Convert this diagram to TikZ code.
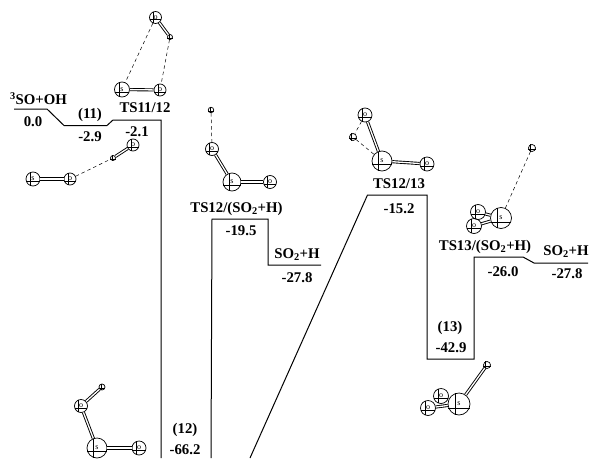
\documentclass[tikz,border=0pt]{standalone}
\usepackage{fontspec}
\setmainfont{Liberation Serif}
\usepackage{xcolor}
\usetikzlibrary{arrows.meta, positioning, calc}

\tikzset{
    level/.style={line width=1pt},
    lbl/.style={font=\fontsize{14.8}{16}\selectfont\bfseries, inner sep=0pt},
    atom/.style={circle, draw, line width=0.7pt, minimum size=#1, inner sep=0pt,
        font=\fontsize{8}{8}\selectfont,
        append after command={
            (\tikzlastnode.200) edge[line width=0.4pt] (\tikzlastnode.340)
            (\tikzlastnode.110) edge[line width=0.4pt] (\tikzlastnode.250)
        }},
    bond/.style={double, double distance=1.3pt, line width=0.9pt},
    weak/.style={line width=0.5pt, dash pattern=on 3.5pt off 3pt},
}

\begin{document}
\begin{tikzpicture}[x=1pt, y=-1pt]
    \useasboundingbox (0,0) rectangle (589,458);

    % reactant side
    \coordinate (a0) at (14,109);
    \coordinate (a1) at (47,109);
    \coordinate (a2) at (64,125.5);
    \coordinate (a3) at (107,125.5);
    \coordinate (a4) at (113,120);
    \coordinate (a5) at (161,120);
    \coordinate (a6) at (161,458);
    % TS12/(SO2+H) branch
    \coordinate (b0) at (211,458);
    \coordinate (b1) at (212,219);
    \coordinate (b2) at (268,219);
    \coordinate (b3) at (268,265);
    \coordinate (b4) at (321,265);
    % TS12/13 branch
    \coordinate (c0) at (250,458);
    \coordinate (c1) at (367.5,195);
    \coordinate (c2) at (427,195);
    \coordinate (c3) at (427,359);
    \coordinate (c4) at (474,359);
    \coordinate (c5) at (474,257);
    \coordinate (c6) at (523,257);
    \coordinate (c7) at (534,263);
    \coordinate (c8) at (588,263);

    \draw[level] (a0) -- (a1) -- (a2) -- (a3) -- (a4) -- (a5) -- (a6);
    \draw[level] (b0) -- (b1) -- (b2) -- (b3) -- (b4);
    \draw[level] (c0) -- (c1) -- (c2) -- (c3) -- (c4) -- (c5) -- (c6) -- (c7) -- (c8);

    % labels
    \node[lbl] (so_oh) at (38.5,99) {\textsuperscript{3}SO+OH};
    \node[lbl] (e_so_oh) at (33,122) {0.0};
    \node[lbl] (m11) at (90,115) {(11)};
    \node[lbl, below=10pt of m11] (e_m11) {-2.9};
    \node[lbl] (ts1112) at (145,108) {TS11/12};
    \node[lbl] (e_ts1112) at (137,132) {-2.1};
    \node[lbl] (ts12h) at (236.5,209) {TS12/(SO\textsubscript{2}+H)};
    \node[lbl] (e_ts12h) at (241,231) {-19.5};
    \node[lbl] (so2h_a) at (297,255) {SO\textsubscript{2}+H};
    \node[lbl] (e_so2h_a) at (297,278) {-27.8};
    \node[lbl] (ts1213) at (399,184) {TS12/13};
    \node[lbl] (e_ts1213) at (399,209) {-15.2};
    \node[lbl] (ts13h) at (485,247) {TS13/(SO\textsubscript{2}+H)};
    \node[lbl] (e_ts13h) at (503,272) {-26.0};
    \node[lbl] (so2h_b) at (566,252) {SO\textsubscript{2}+H};
    \node[lbl] (e_so2h_b) at (567,274) {-27.8};
    \node[lbl] (m13) at (450,328) {(13)};
    \node[lbl] (e_m13) at (451,348) {-42.9};
    \node[lbl] (m12) at (185,430) {(12)};
    \node[lbl] (e_m12) at (185,450) {-66.2};

    % molecule 11
    \node[atom=14pt] (s11) at (33,179) {s};
    \node[atom=12pt] (o11a) at (70,179) {o};
    \node[atom=12pt] (o11b) at (133,145) {o};
    \node[atom=5pt] (h11) at (113,158) {};
    \draw[bond] (s11) -- (o11a);
    \draw[bond] (o11b) -- (h11);
    \draw[weak] (o11a) -- (h11);

    % TS11/12
    \node[atom=15pt] (s1) at (122,89.5) {s};
    \node[atom=12pt] (o1a) at (160,90) {o};
    \node[atom=12pt] (o1b) at (155.5,17.5) {o};
    \node[atom=5pt] (h1) at (170,37) {};
    \draw[bond] (s1) -- (o1a);
    \draw[bond] (o1b) -- (h1);
    \draw[weak] (o1b) -- (s1);
    \draw[weak] (h1) -- (o1a);

    % TS12/(SO2+H)
    \node[atom=5.5pt] (h2) at (211,110) {};
    \node[atom=13pt] (o2a) at (212,149) {o};
    \node[atom=18pt] (s2) at (232,182) {s};
    \node[atom=13pt] (o2b) at (270,182) {o};
    \draw[weak] (h2) -- (o2a);
    \draw[bond] (o2a) -- (s2);
    \draw[bond] (s2) -- (o2b);

    % TS12/13
    \node[atom=14pt] (o3a) at (365,115) {o};
    \node[atom=7pt] (h3) at (353,137) {};
    \node[atom=20pt] (s3) at (382,161) {s};
    \node[atom=14pt] (o3b) at (427,164) {o};
    \draw[bond] (o3a) -- (s3);
    \draw[bond] (s3) -- (o3b);
    \draw[weak] (o3a) -- (h3);
    \draw[weak] (h3) -- (s3);

    % TS13/(SO2+H)
    \node[atom=7pt] (h4) at (532,148) {};
    \node[atom=21pt] (s4) at (501,218) {s};
    \node[atom=15pt] (o4a) at (478,212) {o};
    \node[atom=15pt] (o4b) at (474,226) {o};
    \draw[weak] (h4) -- (s4);
    \draw[bond] (o4a) -- (s4);
    \draw[bond] (o4b) -- (s4);

    % molecule 13
    \node[atom=7pt] (h5) at (487,365) {};
    \node[atom=22pt] (s5) at (459,404) {s};
    \node[atom=15pt] (o5a) at (441,396) {o};
    \node[atom=15pt] (o5b) at (428,408) {o};
    \draw[bond] (h5) -- (s5);
    \draw[bond] (o5a) -- (s5);
    \draw[bond] (o5b) -- (s5);

    % molecule 12
    \node[atom=6pt] (h6) at (102,387) {};
    \node[atom=13pt] (o6a) at (81,406) {o};
    \node[atom=20pt] (s6) at (97,448) {s};
    \node[atom=14pt] (o6b) at (139,448) {o};
    \draw[bond] (h6) -- (o6a);
    \draw[bond] (o6a) -- (s6);
    \draw[bond] (s6) -- (o6b);
\end{tikzpicture}
\end{document}
